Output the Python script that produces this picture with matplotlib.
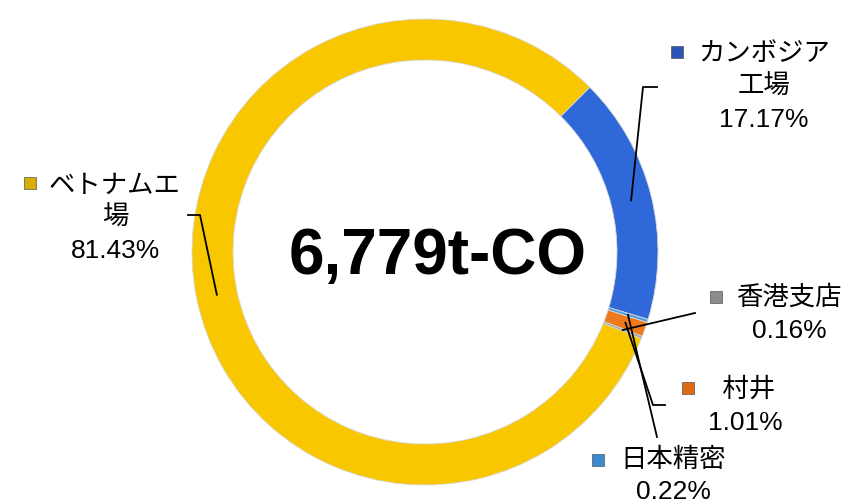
import matplotlib.pyplot as plt
import numpy as np

# data (clockwise from the top-right)
labels = ['カンボジア\n工場', '日本精密', '村井', '香港支店', 'ベトナム工場']
label_lines = ['カンボジア\n工場', '日本精密', ' 村井', '香港支店', 'ベトナムエ\n場']
shares = [17.17, 0.22, 1.01, 0.16, 81.43]
colors = ['#2F68D8', '#4A9FE2', '#EE7A1C', '#A0A0A0', '#F8C700']
key_colors = ['#2C55B8', '#3C8ACF', '#E06A12', '#8C8C8C', '#D8AE00']
total_text = '6,779t-CO'

W, H = 848, 504
cx, cy, R, ring = 425, 252, 233, 41

fig = plt.figure(figsize=(W / 100, H / 100), dpi=100)
ax = fig.add_axes([0, 0, 1, 1])
wedges, _ = ax.pie(shares, colors=colors, startangle=45, counterclock=False,
                   center=(cx, cy), radius=R,
                   wedgeprops=dict(width=ring, edgecolor='#d8d8d8', linewidth=0.6))
ax.set_xlim(0, W)
ax.set_ylim(0, H)
ax.set_aspect('equal')
ax.axis('off')

fam = ['Liberation Sans', 'Noto Sans CJK JP', 'DejaVu Sans']

# label placement (pixel coords from the top): text centre, key position, leader path
layout = [
    dict(text=(764, 87), key=(677, 52), path=[(643, 87), (657, 87)]),
    dict(text=(673, 476), key=(598, 460), path=[(657, 437)]),
    dict(text=(745, 406), key=(688, 388), path=[(653, 405), (665, 405)]),
    dict(text=(789, 314), key=(716, 297), path=[(695, 313)]),
    dict(text=(115, 218), key=(30, 183), path=[(200, 215), (188, 215)]),
]

for w, lab, val, kc, lay in zip(wedges, label_lines, shares, key_colors, layout):
    mid = np.deg2rad((w.theta1 + w.theta2) / 2)
    r0 = R - ring / 2
    pts = [(cx + r0 * np.cos(mid), cy + r0 * np.sin(mid))]
    pts += [(x, H - y) for x, y in lay['path']]
    xs, ys = zip(*pts)
    ax.plot(xs, ys, color='black', lw=1.3, zorder=3)

    tx, ty = lay['text']
    ax.text(tx, H - ty, f'{lab}\n{val:.2f}%', ha='center', va='center',
            fontsize=19, family=fam, linespacing=1.45)
    kx, ky = lay['key']
    ax.plot(kx, H - ky, marker='s', markersize=8, color=kc,
            markeredgecolor='#555555', markeredgewidth=0.5)

ax.text(438, H - 257, total_text, ha='center', va='center', fontsize=46,
        fontweight='bold', family=['Liberation Sans', 'DejaVu Sans'])

fig.savefig('out.png', dpi=100)
